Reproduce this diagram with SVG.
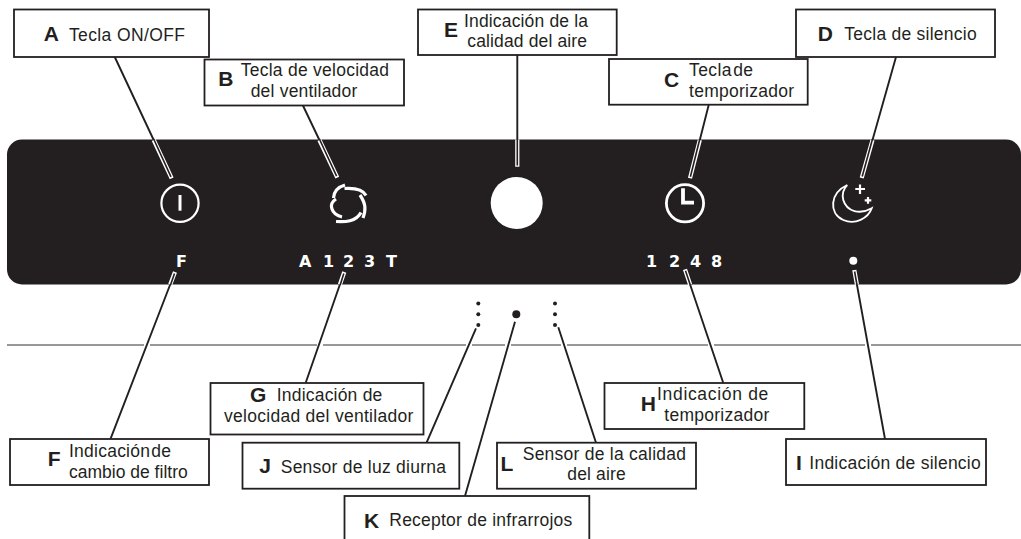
<svg xmlns="http://www.w3.org/2000/svg" width="1021" height="539" viewBox="0 0 1021 539">
<style>
text{font-family:"Liberation Sans",Arial,sans-serif;fill:#231f20}
.t{font-size:17.5px}
.k{font-size:21px;font-weight:bold}
.b{fill:#fff;stroke:#231f20;stroke-width:1.8}
.c{stroke:#231f20;stroke-width:1.9;fill:none}
.o{stroke:#fff;stroke-width:4.2;fill:none}
.i{stroke:#231f20;stroke-width:1.6;fill:none}
.w{stroke:#fff;fill:none}
.d{fill:#231f20}
.seg{font-family:"DejaVu Sans",sans-serif;font-size:16px;font-weight:bold;fill:#fff}
</style>
<g id="panel">
<rect x="7" y="139.5" width="1014" height="145" rx="15" fill="#231f20"/>
<path d="M7 345H144M150 345H317M323 345H466M472 345H505M511 345H561M567 345H708M714 345H865M871 345H1021" stroke="#777" stroke-width="1.5" fill="none"/>
</g>
<g id="connectors">
<path class="c" d="M114.3 56L153.7 140M302.7 105L319.4 140M517.3 55V140M708.7 105L699.8 140M896 57L872.5 140M110.7 438.3L170.2 284.5M305.7 382.7L339.9 284.5M723.3 383L690.1 284.5M885 439L856.9 284.5M426.7 442.3L476 328.3M465 496L515 321.7M596 442.7L558.3 327.3"/>
<path class="o" d="M153.7 140L171.7 178.3M319.4 140L337.3 177.7M517.3 139.5V166.7M699.8 140L690 178.3M872.5 140L861.7 178M170.2 284.5L175 272M339.9 284.5L344.3 272M690.1 284.5L685 269.3M856.9 284.5L854.3 270"/>
<path class="i" d="M153.7 139L171 176.8M319.4 139L336.6 176.2M517.3 139V165.5M699.8 139L690.4 176.8M872.5 139L862.2 176.5M170.5 285L174.5 273.5M340.2 285L343.8 273.5M690.3 285L685.5 270.8M857 285L854.6 271.5"/>
</g>
<g id="icon-power">
<circle class="w" cx="180" cy="203.3" r="18.6" stroke-width="2.2"/>
<path class="w" d="M180 195V210.7" stroke-width="3"/>
</g>
<g id="icon-fan">
<path class="w" stroke-width="3.2" d="M345 185C338 187 334 191 333.500 198M344.500 188.500C352 188 362 188 366 195.500M360 195C366 204 366 210 363 218M336 199C328 204 331 214 342 217M336 221.500C345 222 356 222 361 212.500"/>
</g>
<circle id="icon-air" cx="516.7" cy="203" r="26" fill="#fff"/>
<g id="icon-clock">
<circle class="w" cx="685" cy="203.3" r="18.6" stroke-width="2.8"/>
<path class="w" d="M683 188.300V202.700H694" stroke-width="3.800"/>
</g>
<g id="icon-moon">
<path class="w" stroke-width="1.900" d="M847.300 185C830 193 828.300 213 843.300 220C855 225.300 868.300 218.300 871.700 208.300C860 215 846.700 211.700 843.300 200C841.700 195 843.300 188.300 847.300 185Z"/>
<path class="w" stroke-width="2.200" d="M855.300 189H865M860 184.500V194M864.700 200.300H871.300M868 197V203.700"/>
</g>
<g id="indicators">
<text class="seg" x="176" y="267">F</text>
<text class="seg" x="299 315 323 339 343 360 364 382 386" y="267">A 1 2 3 T</text>
<text class="seg" x="646 662 669 686 690 707 711" y="267">1 2 4 8</text>
<circle cx="853.300" cy="260.700" r="4" fill="#fff"/>
</g>
<g id="sensors">
<circle class="d" cx="478.300" cy="303.500" r="2"/><circle class="d" cx="478.300" cy="314.300" r="2"/><circle class="d" cx="478.300" cy="325" r="2"/>
<circle class="d" cx="516.300" cy="314.300" r="4"/>
<circle class="d" cx="555" cy="303.500" r="2"/><circle class="d" cx="555" cy="314.300" r="2"/><circle class="d" cx="555" cy="325" r="2"/>
</g>
<g id="node-A"><rect class="b" x="14" y="9.500" width="195" height="47.500"/><text class="k" x="43.700" y="40.700" textLength="18">A</text><text class="t" x="69" y="40.500" textLength="116">Tecla ON/OFF</text></g>
<g id="node-B"><rect class="b" x="204.500" y="59.500" width="199.500" height="46"/><text class="k" x="218.300" y="86">B</text><text class="t" x="240.700" y="76" textLength="148.300">Tecla de velocidad</text><text class="t" x="250.700" y="97" textLength="106.600">del ventilador</text></g>
<g id="node-E"><rect class="b" x="418" y="9.500" width="198.700" height="45.500"/><text class="k" x="444" y="36.700">E</text><text class="t" x="464" y="27" textLength="124">Indicación de la</text><text class="t" x="467.300" y="47" textLength="119.700">calidad del aire</text></g>
<g id="node-D"><rect class="b" x="796" y="9.500" width="199" height="47.500"/><text class="k" x="817.700" y="40.700">D</text><text class="t" x="844.300" y="40" textLength="132.400">Tecla de silencio</text></g>
<g id="node-C"><rect class="b" x="609" y="59" width="198.700" height="45.700"/><text class="k" x="664" y="86.700">C</text><text class="t" x="689" y="76" textLength="64" style="word-spacing:-4px">Tecla de</text><text class="t" x="689" y="97" textLength="105">temporizador</text></g>
<g id="node-G"><rect class="b" x="210.500" y="383" width="213" height="51.500"/><text class="k" x="250" y="402.300">G</text><text class="t" x="276.700" y="401" textLength="105.600">Indicación de</text><text class="t" x="224" y="422.300" textLength="189.300">velocidad del ventilador</text></g>
<g id="node-H"><rect class="b" x="604.500" y="383" width="199.800" height="46"/><text class="k" x="640.700" y="410.700">H</text><text class="t" x="657" y="400" textLength="111.300">Indicación de</text><text class="t" x="664.300" y="421.300" textLength="105">temporizador</text></g>
<g id="node-F"><rect class="b" x="10" y="439" width="199" height="46"/><text class="k" x="47.700" y="466">F</text><text class="t" x="69" y="457" textLength="102" style="word-spacing:-4px">Indicación de</text><text class="t" x="69" y="478" textLength="118.700">cambio de filtro</text></g>
<g id="node-I"><rect class="b" x="786" y="439" width="200" height="46"/><text class="k" x="796" y="470">I</text><text class="t" x="809.300" y="469" textLength="171.400">Indicación de silencio</text></g>
<g id="node-J"><rect class="b" x="242.500" y="442.700" width="216.800" height="46"/><text class="k" x="259.300" y="473.300">J</text><text class="t" x="280.700" y="472.700" textLength="165.300">Sensor de luz diurna</text></g>
<g id="node-L"><rect class="b" x="497" y="442.700" width="199" height="46"/><text class="k" x="500.500" y="470.700">L</text><text class="t" x="522.700" y="460" textLength="163.300">Sensor de la calidad</text><text class="t" x="567.300" y="480" textLength="58.400">del aire</text></g>
<g id="node-K"><rect class="b" x="344.500" y="496" width="244.800" height="50"/><text class="k" x="364" y="527.700">K</text><text class="t" x="389.300" y="526" textLength="183">Receptor de infrarrojos</text></g>
</svg>
